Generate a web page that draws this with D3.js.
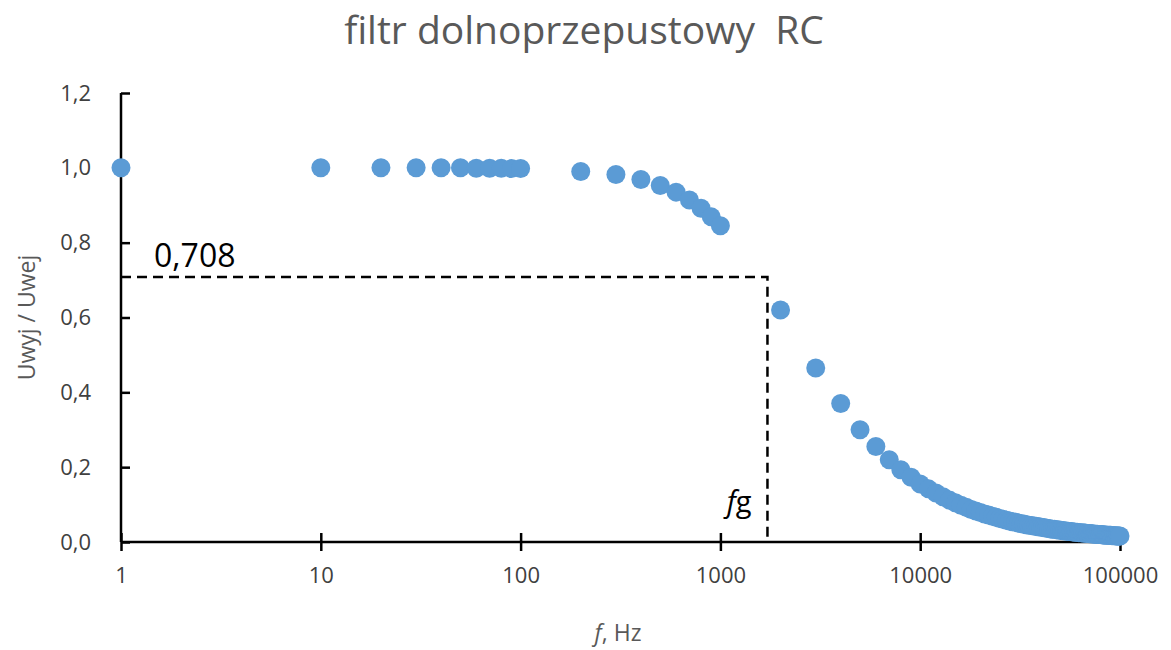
<!DOCTYPE html>
<html>
<head>
<meta charset="utf-8">
<script src="https://cdn.jsdelivr.net/npm/d3@7"></script>
<style>
  body { margin: 0; background: #fff; }
  text { font-family: "Open Sans", "Noto Sans", sans-serif; }
</style>
</head>
<body>
<div id="chart"></div>
<script>
// measured frequencies (Hz)
var freq = [1, 10, 20, 30, 40, 50, 60, 70, 80, 90, 100,
  200, 300, 400, 500, 600, 700, 800, 900, 1000,
  2000, 3000, 4000, 5000, 6000, 7000, 8000, 9000, 10000,
  11000, 12000, 13000, 14000, 15000, 16000, 17000, 18000, 19000, 20000,
  21000, 22000, 23000, 24000, 25000, 26000, 27000, 28000, 29000, 30000,
  31000, 32000, 33000, 34000, 35000, 36000, 37000, 38000, 39000, 40000,
  41000, 42000, 43000, 44000, 45000, 46000, 47000, 48000, 49000, 50000,
  51000, 52000, 53000, 54000, 55000, 56000, 57000, 58000, 59000, 60000,
  61000, 62000, 63000, 64000, 65000, 66000, 67000, 68000, 69000, 70000,
  71000, 72000, 73000, 74000, 75000, 76000, 77000, 78000, 79000, 80000,
  81000, 82000, 83000, 84000, 85000, 86000, 87000, 88000, 89000, 90000,
  91000, 92000, 93000, 94000, 95000, 96000, 97000, 98000, 99000, 100000];
// Uwyj / Uwej
var ratio = [1.0, 1.0, 1.0, 1.0, 1.0, 1.0, 0.999, 0.999, 0.999, 0.998, 0.998,
  0.990, 0.982, 0.969, 0.953, 0.935, 0.914, 0.892, 0.869, 0.845,
  0.620, 0.465, 0.370, 0.300, 0.255, 0.220, 0.193, 0.173, 0.155,
  0.142, 0.131, 0.121, 0.112, 0.105, 0.098, 0.093, 0.087, 0.083, 0.079,
  0.075, 0.072, 0.069, 0.066, 0.063, 0.061, 0.058, 0.056, 0.054, 0.053,
  0.051, 0.049, 0.048, 0.046, 0.045, 0.044, 0.043, 0.042, 0.041, 0.040,
  0.039, 0.038, 0.037, 0.036, 0.035, 0.034, 0.034, 0.033, 0.032, 0.032,
  0.031, 0.030, 0.030, 0.029, 0.029, 0.028, 0.028, 0.027, 0.027, 0.026,
  0.026, 0.025, 0.025, 0.025, 0.024, 0.024, 0.024, 0.023, 0.023, 0.023,
  0.022, 0.022, 0.022, 0.021, 0.021, 0.021, 0.021, 0.020, 0.020, 0.020,
  0.020, 0.019, 0.019, 0.019, 0.019, 0.018, 0.018, 0.018, 0.018, 0.018,
  0.017, 0.017, 0.017, 0.017, 0.017, 0.016, 0.016, 0.016, 0.016, 0.016];

var xTicks = [1, 10, 100, 1000, 10000, 100000];
var yTicks = [0, 0.2, 0.4, 0.6, 0.8, 1.0, 1.2];
var cutLevel = 0.708;   // 0,708 guide
var cutFreq = 1720;     // fg guide

var W = 1171, H = 650;
var margin = { top: 93, right: 51, bottom: 108, left: 121 };
var width = W - margin.left - margin.right;
var height = H - margin.top - margin.bottom;

var svg = d3.select("#chart").append("svg")
  .attr("width", W)
  .attr("height", H);

var g = svg.append("g")
  .attr("transform", "translate(" + margin.left + "," + margin.top + ")");

var x = d3.scaleLog().domain([1, 100000]).range([0, width]);
var y = d3.scaleLinear().domain([0, 1.2]).range([height, 0]);

var fmt = function (d) { return d3.format(".1f")(d).replace(".", ","); };

// y axis
var yAxis = g.append("g")
  .call(d3.axisLeft(y).tickValues(yTicks).tickSize(9).tickFormat(fmt));
yAxis.selectAll(".tick line").attr("x2", 9);
yAxis.selectAll("line, path").attr("stroke", "#000").attr("stroke-width", 2.5);
yAxis.select(".domain").attr("d", "M0," + height + "V0");
yAxis.selectAll(".tick text")
  .attr("x", -30)
  .style("font-size", "22px")
  .style("fill", "#404040");

// x axis
var xAxis = g.append("g")
  .attr("transform", "translate(0," + height + ")")
  .call(d3.axisBottom(x).tickValues(xTicks).tickSize(9).tickFormat(d3.format("d")));
xAxis.selectAll(".tick line").attr("y1", -9);
xAxis.selectAll("line, path").attr("stroke", "#000").attr("stroke-width", 2.5);
xAxis.select(".domain").attr("d", "M0,0H" + width);
xAxis.selectAll(".tick text")
  .attr("y", 25)
  .style("font-size", "22px")
  .style("fill", "#404040");

// dashed guides
g.append("path")
  .attr("d", "M" + x(1) + "," + y(cutLevel) + "H" + x(cutFreq) + "V" + y(0))
  .attr("fill", "none")
  .attr("stroke", "#000")
  .attr("stroke-width", 2.5)
  .attr("stroke-dasharray", "10,6");

g.append("text")
  .attr("x", x(1) + 33)
  .attr("y", y(cutLevel) - 10)
  .style("font-size", "32px")
  .style("fill", "#000")
  .text("0,708");

g.append("text")
  .attr("x", x(cutFreq) - 16)
  .attr("y", y(0) - 30)
  .attr("text-anchor", "end")
  .style("font-size", "29px")
  .style("fill", "#000")
  .call(function (t) {
    t.append("tspan").style("font-style", "italic").text("f");
    t.append("tspan").text("g");
  });

// points
g.selectAll("circle.pt")
  .data(freq.map(function (f, i) { return { f: f, v: ratio[i] }; }))
  .enter().append("circle")
  .attr("class", "pt")
  .attr("cx", function (d) { return x(d.f); })
  .attr("cy", function (d) { return y(d.v); })
  .attr("r", 9.5)
  .attr("fill", "#5B9BD5");

// title
svg.append("text")
  .attr("x", 584)
  .attr("y", 44)
  .attr("text-anchor", "middle")
  .style("font-size", "39px")
  .style("fill", "#595959")
  .text("filtr dolnoprzepustowy\u00A0\u00A0RC");

// axis titles
svg.append("text")
  .attr("transform", "translate(35," + (margin.top + y(0.6)) + ") rotate(-90)")
  .attr("text-anchor", "middle")
  .style("font-size", "23px")
  .style("fill", "#595959")
  .text("Uwyj / Uwej");

svg.append("text")
  .attr("x", 618)
  .attr("y", 641)
  .attr("text-anchor", "middle")
  .style("font-size", "23px")
  .style("fill", "#595959")
  .call(function (t) {
    t.append("tspan").style("font-style", "italic").text("f");
    t.append("tspan").text(", Hz");
  });
</script>
</body>
</html>
